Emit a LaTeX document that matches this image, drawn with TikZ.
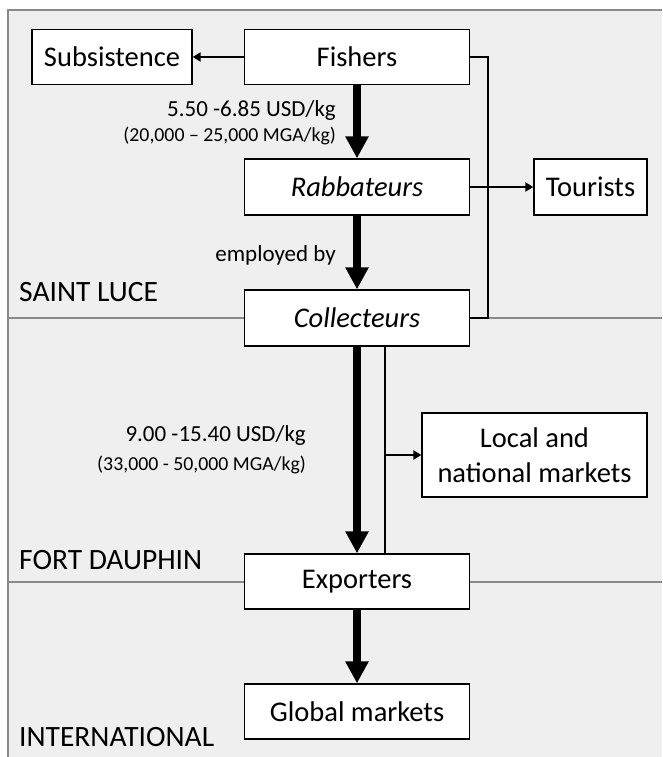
\documentclass[tikz,border=0pt]{standalone}
\usepackage{fontspec}
\setmainfont{Carlito}
\usetikzlibrary{arrows.meta}
\definecolor{bgc}{HTML}{EFEFEF}
\definecolor{framec}{HTML}{8A8A8A}
\tikzset{
  box/.style={draw=black, fill=white, line width=1.3pt, inner sep=0pt, minimum height=55pt, minimum width=225pt, font=\fontsize{28.5}{34.5}\selectfont, align=center},
  zonelabel/.style={anchor=base west, inner sep=0pt, font=\fontsize{29.5}{35}\selectfont},
  pricebig/.style={anchor=base east, inner sep=0pt, font=\fontsize{23}{27}\selectfont},
  pricesmall/.style={anchor=base east, inner sep=0pt, font=\fontsize{19.8}{24}\selectfont},
  thickarrow/.style={line width=7.3pt, -{Triangle[width=22pt,length=22pt]}},
  thinline/.style={line width=2pt},
  thinarrow/.style={line width=2pt, -{Triangle[width=9pt,length=8pt]}},
  sepline/.style={draw=framec, line width=1.2pt}
}
\begin{document}
\begin{tikzpicture}[x=1pt, y=-1pt]
\useasboundingbox (0,0) rectangle (662,757);
% background frame
\fill[bgc] (8,10) rectangle (662,757);
\draw[sepline] (8,757) -- (8,10) -- (662,10);
\draw[sepline] (8,318) -- (662,318);
\draw[sepline] (8,582) -- (662,582);
% zone labels
\node[zonelabel] (zs) at (19,301) {SAINT LUCE};
\node[zonelabel] (zf) at (19,569) {FORT DAUPHIN};
\node[zonelabel] (zi) at (19,746) {INTERNATIONAL};
% boxes
\node[box, minimum width=160pt] (sub) at (112,57) {Subsistence};
\node[box] (fish) at (357,57) {Fishers};
\node[box, minimum height=56pt] (rab) at (357,187) {\itshape Rabbateurs};
\node[box, minimum width=113pt, minimum height=56pt] (tour) at (590.5,187) {Tourists};
\node[box, minimum height=56pt] (col) at (357,318) {\itshape Collecteurs};
\node[box, minimum height=84pt] (loc) at (534.5,455) {Local and\\national markets};
\node[box] (exp) at (357,581.5) {Exporters};
\node[box] (glob) at (357,711.5) {Global markets};
% labels
\node[pricebig] (p1) at (336,117) {5.50 -6.85 USD/kg};
\node[pricesmall] (p1b) at (336,142) {(20,000 – 25,000 MGA/kg)};
\node[pricebig] (emp) at (336,261.5) {employed by};
\node[pricebig] (p2) at (306,441.5) {9.00 -15.40 USD/kg};
\node[pricesmall] (p2b) at (306,470) {(33,000 - 50,000 MGA/kg)};
% connectors
\draw[thinarrow] (fish.west) -- (sub.east);
\draw[thickarrow] (fish.south) -- (rab.north);
\draw[thickarrow] (rab.south) -- (col.north);
\draw[thinline] (fish.east) -- ++(18,0) |- (col.east);
\draw[thinarrow] (rab.east) -- (tour.west);
\draw[thickarrow] (col.south) -- (exp.north);
\draw[thinline] ([xshift=28pt]col.south) -- ([xshift=28pt]exp.north);
\draw[thinarrow] ([xshift=28pt]col.south |- loc.west) -- (loc.west);
\draw[thickarrow] (exp.south) -- (glob.north);
\end{tikzpicture}
\end{document}
